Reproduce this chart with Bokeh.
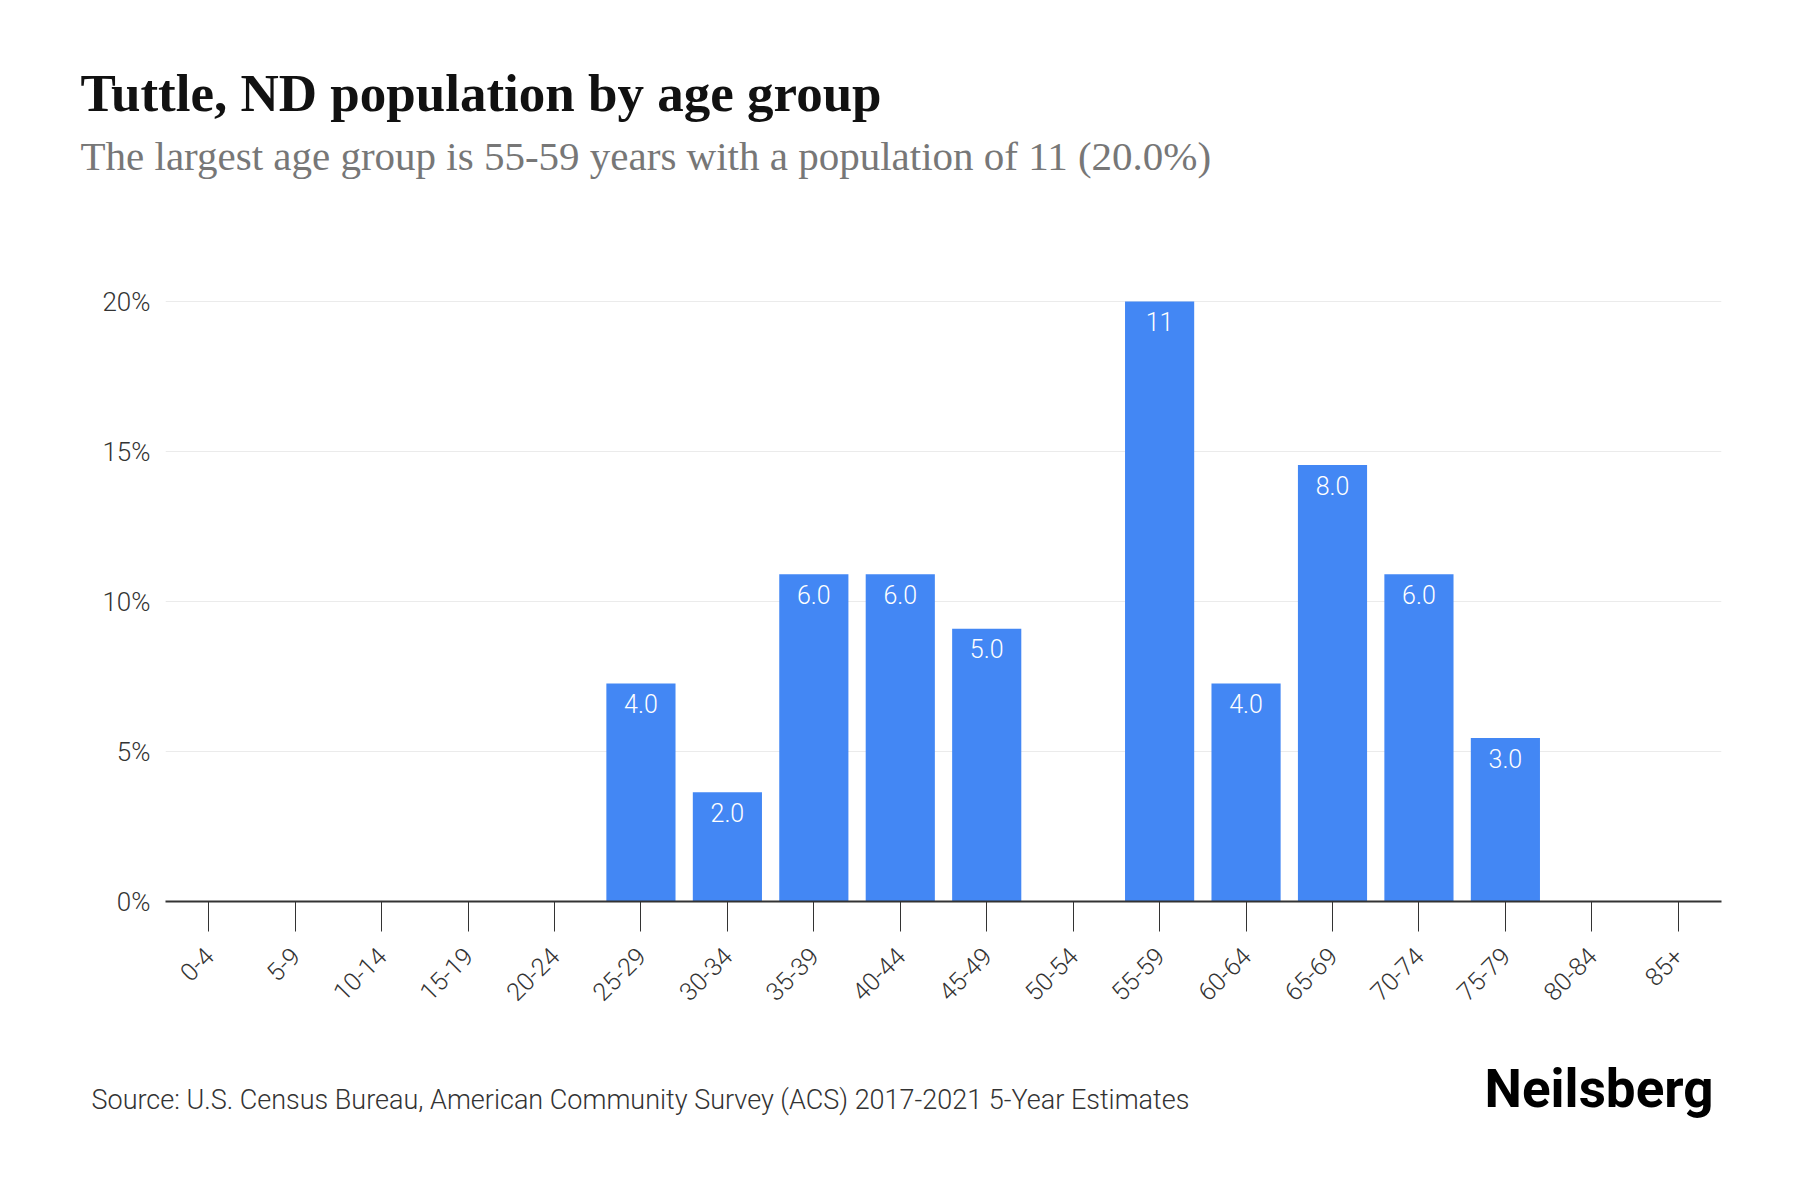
from bokeh.plotting import figure
from bokeh.layouts import column
from bokeh.models import Label, FixedTicker, PrintfTickFormatter, ColumnDataSource, Range1d, FactorRange
from bokeh.core.properties import value
from bokeh.embed import file_html
from bokeh.resources import INLINE
import math

age_groups = ["0-4", "5-9", "10-14", "15-19", "20-24", "25-29", "30-34", "35-39", "40-44",
              "45-49", "50-54", "55-59", "60-64", "65-69", "70-74", "75-79", "80-84", "85+"]
counts = [0, 0, 0, 0, 0, 4, 2, 6, 6, 5, 0, 11, 4, 8, 6, 3, 0, 0]
shares = [0, 0, 0, 0, 0, 7.27, 3.64, 10.91, 10.91, 9.09, 0, 20.0, 7.27, 14.55, 10.91, 5.45, 0, 0]
y_ticks = [0, 5, 10, 15, 20]

title_text = "Tuttle, ND population by age group"
subtitle_text = "The largest age group is 55-59 years with a population of 11 (20.0%)"
source_text = "Source: U.S. Census Bureau, American Community Survey (ACS) 2017-2021 5-Year Estimates"
logo_text = "Neilsberg"

LIGHT = "Roboto Light, Roboto"
BLUE = "#4387f4"

W = 1800
HEAD_H, MAIN_H, FOOT_H = 200, 840, 160
FL, FR = 165, 1721          # frame left/right (px)
FT, FB = 298, 901           # frame top/bottom in page px
Y_END = 20.1


def text_fig(h):
    f = figure(width=W, height=h, x_range=Range1d(0, W), y_range=Range1d(0, h),
               x_axis_location=None, y_axis_location=None, output_backend="svg",
               toolbar_location=None, min_border=0, frame_align=False)
    f.outline_line_color = None
    f.grid.grid_line_color = None
    f.background_fill_color = "white"
    f.border_fill_color = "white"
    return f


# header
head = text_fig(HEAD_H)
head.add_layout(Label(x=80, y=HEAD_H - 92, text=title_text,
                      text_font="Liberation Serif", text_font_style="bold", text_font_size="53px",
                      text_color="#111111", text_baseline="alphabetic"))
head.add_layout(Label(x=80, y=HEAD_H - 155, text=subtitle_text,
                      text_font="Liberation Serif", text_font_size="41px",
                      text_color="#777777", text_baseline="alphabetic"))

# main chart
p = figure(width=W, height=MAIN_H, x_range=FactorRange(*age_groups, range_padding=0),
           y_range=Range1d(0, Y_END), output_backend="svg", toolbar_location=None,
           min_border_left=FL, min_border_right=W - FR,
           min_border_top=FT - HEAD_H, min_border_bottom=HEAD_H + MAIN_H - FB,
           frame_align=False)
p.outline_line_color = None
p.background_fill_color = "white"
p.border_fill_color = "white"

src = ColumnDataSource(dict(x=age_groups, top=shares))
p.vbar(x="x", top="top", width=0.8, source=src, color=BLUE, line_color=None)

lab_x = [a for a, c in zip(age_groups, counts) if c > 0]
lab_y = [s for s, c in zip(shares, counts) if c > 0]
lab_t = [(str(c) if c >= 10 else f"{c:.1f}") for c in counts if c > 0]
p.text(x=lab_x, y=lab_y, text=lab_t, y_offset=20, text_align="center", text_baseline="alphabetic",
       text_color="white", text_font=value(LIGHT), text_font_size="25px")

p.yaxis.ticker = FixedTicker(ticks=y_ticks)
p.yaxis.formatter = PrintfTickFormatter(format="%d%%")
p.yaxis.axis_line_color = None
p.yaxis.major_tick_line_color = None
p.yaxis.minor_tick_line_color = None
p.yaxis.major_label_text_font = LIGHT
p.yaxis.major_label_text_font_size = "26px"
p.yaxis.major_label_text_color = "#333333"
p.yaxis.major_label_standoff = 9

p.xaxis.axis_line_color = "#333333"
p.xaxis.axis_line_width = 2
p.xaxis.major_tick_line_color = "#333333"
p.xaxis.major_tick_line_width = 1
p.xaxis.major_tick_in = 0
p.xaxis.major_tick_out = 30
p.xaxis.major_label_orientation = math.pi / 4
p.xaxis.major_label_text_font = LIGHT
p.xaxis.major_label_text_font_size = "25px"
p.xaxis.major_label_text_color = "#333333"
p.xaxis.major_label_standoff = 20

p.xgrid.grid_line_color = None
p.ygrid.ticker = FixedTicker(ticks=y_ticks)
p.ygrid.grid_line_color = "#ebebeb"
p.ygrid.grid_line_width = 1

# footer
foot = text_fig(FOOT_H)
FOOT_TOP = HEAD_H + MAIN_H
foot.add_layout(Label(x=91, y=FOOT_H - (1099 - FOOT_TOP), text=source_text,
                      text_font=LIGHT, text_font_size="27px",
                      text_color="#333333", text_baseline="alphabetic"))
foot.add_layout(Label(x=1713, y=FOOT_H - (1088 - FOOT_TOP), text=logo_text,
                      text_font="Roboto", text_font_style="bold", text_font_size="53px",
                      text_color="#000000", text_baseline="alphabetic", text_align="right"))

layout = column(head, p, foot, spacing=0)
open("out.html", "w").write(file_html(layout, INLINE))
